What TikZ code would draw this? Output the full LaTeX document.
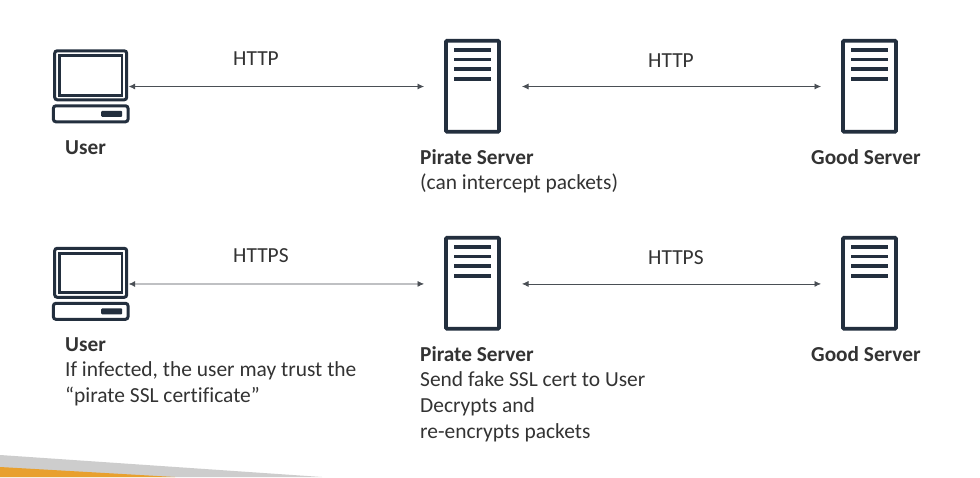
\documentclass[tikz,border=0pt]{standalone}
\usepackage{fontspec}
\setmainfont[Ligatures=NoCommon]{Carlito}
\usetikzlibrary{arrows.meta}
\definecolor{ink}{HTML}{232F3E}
\definecolor{txt}{HTML}{333333}
\definecolor{arr}{HTML}{4A4F55}
\definecolor{wedgegrey}{HTML}{CDCDCD}
\definecolor{wedgeorange}{HTML}{E8A02E}
\tikzset{
 x=1pt,y=-1pt,
 frame/.style={draw=ink,line width=3pt,rounded corners=2.5pt,fill=white,inner sep=0pt,outer sep=0pt},
 screenbox/.style={draw=ink,line width=2.8pt,fill=white},
 srv/.style={draw=ink,line width=3.8pt,fill=white,minimum width=53pt,minimum height=91pt,inner sep=0pt,outer sep=0pt,rounded corners=1pt},
 lap/.style={frame,minimum width=72pt,minimum height=49pt},
 barline/.style={ink,line width=3.6pt},
 link/.style={draw=arr,line width=0.7pt,{Latex[length=6.5pt,width=6pt]}-{Latex[length=6.5pt,width=6pt]}},
 label/.style={anchor=base west,inner sep=0pt,font=\fontsize{21.45pt}{26pt}\selectfont,text=txt},
 head/.style={label,font=\fontsize{21.3pt}{26pt}\selectfont\bfseries},
 proto/.style={label},
}
\newcommand{\laptopicon}[3]{% name, x center, y center of screen
 \node[lap] (#1) at (#2,#3) {};
 \draw[screenbox] (#2-31.2,#3-19.7) rectangle (#2+31.2,#3+20);
 \draw[frame] (#2-37.3,#3+30.5) rectangle (#2+37.3,#3+46.5);
 \fill[ink,rounded corners=1pt] (#2+10.5,#3+35.5) rectangle (#2+31.5,#3+41.5);
}
\newcommand{\servericon}[3]{% name, x center, y center
 \node[srv] (#1) at (#2,#3) {};
 \foreach \d in {-36.2,-26.6,-17,-7.2}{
  \draw[barline] (#2-18.2,#3+\d) -- (#2+18.2,#3+\d);
 }
}
\begin{document}
\begin{tikzpicture}
\useasboundingbox (0,0) rectangle (980,477);
\fill[white] (0,0) rectangle (980,477);
\fill[wedgegrey] (0,455) -- (322,477) -- (0,477) -- cycle;
\fill[wedgeorange] (0,467) -- (175,477) -- (0,477) -- cycle;

\laptopicon{u1}{90.7}{75.3}
\servericon{p1}{472.5}{86.2}
\servericon{g1}{869.5}{86.2}
\laptopicon{u2}{90.7}{272.8}
\servericon{p2}{472.5}{283.2}
\servericon{g2}{869.5}{283.2}

\draw[link] ([shift={(2,11.2)}]u1.east) -- ([shift={(-22,0.3)}]p1.west);
\draw[link] ([shift={(23,0.3)}]p1.east) -- ([shift={(-22,0.3)}]g1.west);
\draw[link] ([shift={(2,11.2)}]u2.east) -- ([shift={(-22,0.7)}]p2.west);
\draw[link] ([shift={(23,0.7)}]p2.east) -- ([shift={(-22,0.7)}]g2.west);

\node[proto] (t1) at (233,65) {HTTP};
\node[proto] (t2) at (648,67) {HTTP};
\node[proto] (t3) at (233,262) {HTTPS};
\node[proto] (t4) at (648,264) {HTTPS};

\node[head] (n1) at (65,154) {User};
\node[head] (n2) at (420,164) {Pirate Server};
\node[label] (n3) at (420,189) {(can intercept packets)};
\node[head] (n4) at (811,164) {Good Server};

\node[head] (n5) at (65,351) {User};
\node[label] (n6) at (65,376) {If infected, the user may trust the};
\node[label] (n7) at (65,402) {“pirate SSL certificate”};
\node[head] (n8) at (420,361) {Pirate Server};
\node[label] (n9) at (420,386) {Send fake SSL cert to User};
\node[label] (n10) at (420,412) {Decrypts and};
\node[label] (n11) at (420,438) {re-encrypts packets};
\node[head] (n12) at (811,361) {Good Server};
\end{tikzpicture}
\end{document}
